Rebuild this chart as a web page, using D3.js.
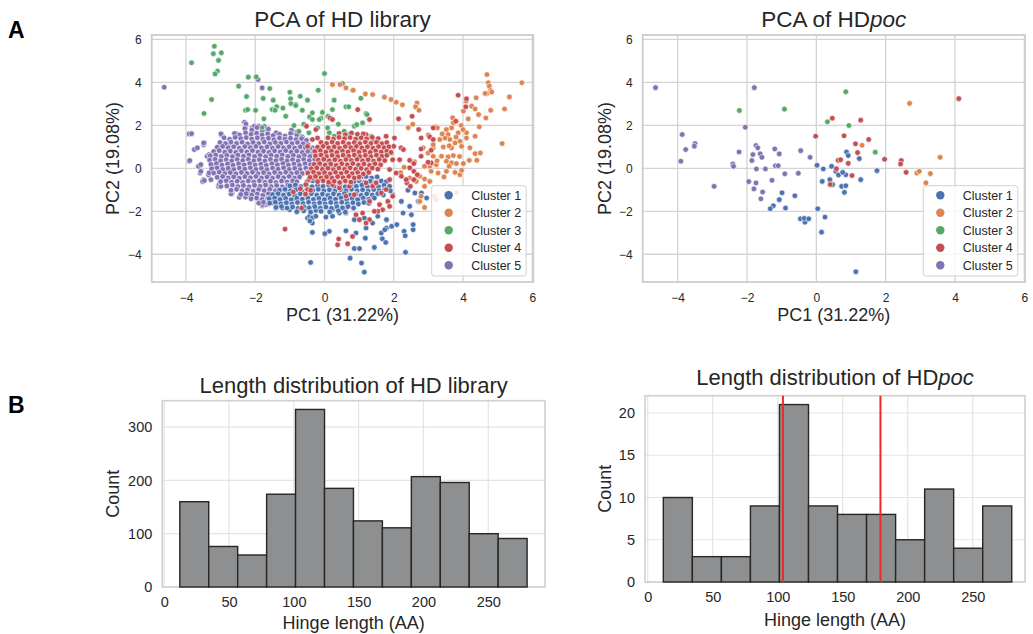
<!DOCTYPE html>
<html><head><meta charset="utf-8">
<script src="https://cdn.jsdelivr.net/npm/d3@7"></script>
<style>
body{margin:0;background:#fff}
svg{display:block}
text{font-family:"Liberation Sans",Arial,Helvetica,sans-serif;fill:#262626}
</style>
</head><body>
<svg id="c" width="1033" height="634"></svg>
<script>
// ---------------- DATA ----------------
const clusterNames = ["Cluster 1","Cluster 2","Cluster 3","Cluster 4","Cluster 5"];
const clusterColors = ["#4c72b0","#dd8452","#55a868","#c44e52","#8172b3"];
const scatterXTicks = [-4,-2,0,2,4,6];
const scatterYTicks = [-4,-2,0,2,4,6];

// HD library PCA
const libCluster1 = [
[-0.40,-4.38],[0.74,-4.18],[1.07,-4.41],[1.15,-4.83],[2.34,-3.91],[0.86,-3.73],[1.01,-3.73],[1.44,-3.68],[1.67,-3.28],[1.77,-3.45],
[1.64,-3.01],[1.79,-2.78],[1.94,-2.70],[2.09,-2.62],[2.30,-2.93],[2.33,-3.14],[2.56,-2.86],[2.56,-2.62],[2.51,-2.16],[2.46,-1.77],
[2.27,-2.08],[2.22,-1.54],[1.97,-1.23],[2.41,-1.02],[2.61,-1.15],[2.71,-1.54],[2.80,-1.15],[2.95,-1.38],[1.79,-2.39],[1.74,-2.86],
[1.54,-2.23],[1.39,-2.55],[1.20,-2.78],[1.18,-3.25],[0.91,-3.01],[0.62,-2.91],[0.14,-2.93],[0.01,-3.04],[-0.35,-2.98],[-0.49,-2.31],
[-0.43,-2.23],[-0.35,-2.31],[-0.25,-2.23],[0.04,-2.27],[0.23,-2.23],[0.43,-2.08],[0.62,-2.08],[0.86,-2.39],[1.15,-2.31],[-0.35,-2.55],
[-0.42,-2.45],[-0.93,-1.46],[-1.12,-1.61],[-1.36,-1.69],[-1.51,-1.61],[-1.41,-1.85],[-1.22,-1.85],[-1.01,-1.93],[-0.74,-1.93],[-0.54,-1.85],
[-0.25,-1.96],[0.23,-1.93],[0.62,-1.85],[0.10,0.30],[0.20,0.05],[-0.05,0.40],[0.35,0.50],[-0.06,-0.30],[0.20,-0.55],[0.43,-0.70],
[1.05,-0.42],[1.20,-0.38],[1.36,-0.45],[1.52,-0.40],
[-0.50,-0.62],[-0.34,-0.58],[0.85,-0.62],[1.00,-0.58],[1.16,-0.65],[1.32,-0.60],[1.48,-0.66],[1.64,-0.59],[1.78,-0.63],
[-1.00,-0.82],[-0.84,-0.78],[-0.68,-0.85],[-0.52,-0.80],[-0.36,-0.86],[-0.20,-0.79],[-0.04,-0.84],[0.12,-0.78],[0.28,-0.85],[0.44,-0.80],
[0.60,-0.86],[0.76,-0.79],[0.92,-0.84],[1.08,-0.78],[1.24,-0.85],[1.40,-0.80],[1.56,-0.86],[1.72,-0.79],[1.88,-0.84],
[-1.30,-1.02],[-1.14,-0.98],[-0.98,-1.05],[-0.82,-1.00],[-0.66,-1.06],[-0.50,-0.99],[-0.34,-1.04],[-0.18,-0.98],[-0.02,-1.05],[0.14,-1.00],
[0.30,-1.06],[0.46,-0.99],[0.62,-1.04],[0.78,-0.98],[0.94,-1.05],[1.10,-1.00],[1.26,-1.06],[1.42,-0.99],[1.58,-1.04],[1.74,-0.98],[1.90,-1.05],
[-1.50,-1.22],[-1.34,-1.18],[-1.18,-1.25],[-1.02,-1.20],[-0.86,-1.26],[-0.70,-1.19],[-0.54,-1.24],[-0.38,-1.18],[-0.22,-1.25],[-0.06,-1.20],
[0.10,-1.26],[0.26,-1.19],[0.42,-1.24],[0.58,-1.18],[0.74,-1.25],[0.90,-1.20],[1.06,-1.26],[1.22,-1.19],[1.38,-1.24],[1.54,-1.18],[1.70,-1.24],
[-1.60,-1.42],[-1.44,-1.38],[-1.28,-1.45],[-1.12,-1.40],[-0.96,-1.46],[-0.80,-1.39],[-0.64,-1.44],[-0.48,-1.38],[-0.32,-1.45],[-0.16,-1.40],
[0.00,-1.46],[0.16,-1.39],[0.32,-1.44],[0.48,-1.38],[0.64,-1.45],[0.80,-1.40],[0.96,-1.46],[1.12,-1.39],[1.28,-1.44],[1.44,-1.38],
[-1.58,-1.62],[-1.42,-1.58],[-1.26,-1.65],[-1.10,-1.60],[-0.94,-1.66],[-0.78,-1.59],[-0.62,-1.64],[-0.46,-1.58],[-0.30,-1.65],[-0.14,-1.60],
[0.02,-1.66],[0.18,-1.59],[0.34,-1.64],[0.50,-1.58],[0.66,-1.65],[0.82,-1.60],[0.98,-1.66],[1.14,-1.59],[1.28,-1.63],
[-1.40,-1.82],[-1.24,-1.78],[-1.08,-1.85],[-0.92,-1.80],[-0.76,-1.86],[-0.60,-1.79],[-0.44,-1.84],[-0.28,-1.78],[-0.12,-1.85],[0.04,-1.80],
[0.20,-1.86],[0.36,-1.79],[0.52,-1.84],[0.68,-1.78],[0.84,-1.85],
[-0.80,-2.02],[-0.60,-1.98],[-0.40,-2.04],[-0.10,-2.00],[0.15,-2.03],[0.40,-1.98],[0.60,-2.04]
];
const libCluster2 = [
[0.23,3.90],[0.45,3.90],[0.62,3.74],[0.83,3.63],[1.18,3.46],[1.39,3.43],[1.73,3.31],[1.92,3.20],[2.07,3.07],[2.25,2.95],
[2.67,3.04],[2.63,2.86],[2.73,2.70],[4.69,4.36],[4.73,3.98],[4.76,3.82],[4.80,3.62],[4.69,3.48],[4.83,3.55],[5.70,3.98],
[5.34,3.32],[4.38,3.28],[4.64,3.48],[4.09,3.12],[4.25,2.89],[4.35,2.76],[4.45,2.50],[4.80,2.70],[4.66,2.34],[5.20,2.76],
[4.01,2.66],[4.47,1.93],[5.13,1.15],[4.35,1.49],[4.10,1.65],[3.81,2.19],[3.72,2.11],[3.67,1.88],[3.52,1.80],[3.57,1.57],
[3.86,1.65],[3.95,1.99],[4.00,1.80],[4.10,1.41],[3.91,1.26],[3.77,1.18],[3.62,1.34],[3.48,1.41],[3.33,1.34],[3.21,1.93],
[3.26,1.88],[2.42,1.89],[3.14,0.95],[3.43,0.99],[3.67,0.95],[3.96,1.02],[3.38,0.56],[3.57,0.53],[3.72,0.59],[3.52,0.33],
[3.67,0.25],[3.81,0.22],[4.01,0.22],[4.18,0.37],[4.35,0.68],[4.50,0.71],[4.40,0.37],[3.23,0.17],[3.04,0.09],[2.89,0.09],
[3.08,-0.14],[3.28,-0.22],[3.52,-0.14],[3.77,-0.19],[3.91,-0.30],[3.96,-0.09],[2.75,-0.37],[2.89,-0.50],[3.04,-0.61],[2.65,-0.61],
[2.46,-0.45],[2.89,-0.84],[3.18,-1.30],[3.23,-1.46],[2.89,-1.82],[3.52,-1.15],[3.62,-1.15],[3.81,-1.12],[2.79,-1.30],[2.75,-1.54],
[3.14,0.56],[2.99,0.71],[3.14,1.10],[2.85,0.95],[3.60,1.05],[3.80,1.45],[3.40,1.60],[3.90,0.55],[4.20,0.95],[3.25,0.35],
[3.45,-0.40],[3.60,0.10],[2.60,0.30],[2.30,0.05],[2.20,-0.20],[3.00,1.55],[3.70,2.35],[2.55,2.05],[4.15,2.30]
];
const libCluster3 = [
[-3.18,5.68],[-3.21,5.33],[-2.98,5.37],[-3.06,5.02],[-3.84,4.91],[-3.09,4.52],[-3.16,4.39],[-3.26,3.20],[-3.48,2.55],[-2.48,3.82],
[-2.20,4.24],[-2.25,3.34],[-1.97,4.25],[-1.58,3.71],[-1.77,3.25],[-2.28,2.70],[-2.22,2.73],[-1.99,2.70],[-1.48,3.17],[-1.38,2.86],
[-1.51,2.73],[-1.43,2.70],[-1.00,3.54],[-0.98,3.23],[-0.70,3.35],[-0.49,3.17],[-0.97,3.01],[-0.83,2.92],[-0.18,3.63],[0.00,4.41],
[0.28,3.17],[0.52,3.94],[0.81,3.63],[1.05,3.26],[0.62,2.86],[0.70,2.86],[1.20,2.55],[1.23,2.50],[-0.43,2.39],[-0.35,2.27],
[-0.10,2.33],[0.10,2.42],[0.23,2.73],[-0.64,2.70],[-1.75,2.30],[-0.88,1.99],[-0.74,1.72],[-0.45,1.65],[-0.20,1.88],[0.09,1.88],
[0.14,1.65],[0.28,1.49],[0.57,1.72],[0.67,1.57],[0.86,1.96],[0.93,2.03],[1.10,2.11],[1.35,1.49],[1.39,1.26],[1.73,0.79],
[0.31,1.02],[0.91,0.95],[-0.15,2.27],[-1.12,2.42],[-0.35,2.58],[-0.06,2.60],[-1.80,1.90],[-0.60,2.05],[0.40,2.05],[-1.20,2.80]
];
const libCluster4 = [
[3.86,3.40],[4.10,3.23],[4.08,2.86],[1.30,2.27],[2.14,2.30],[2.53,2.42],[2.72,1.80],[3.14,1.88],[3.79,2.19],[2.79,1.41],
[3.04,1.46],[3.14,1.34],[2.79,0.90],[3.08,0.84],[2.79,0.56],[3.08,0.25],[2.99,0.28],[2.46,0.37],[2.58,0.22],[2.46,0.02],
[2.58,-0.14],[2.68,-0.30],[2.58,-0.53],[2.38,-0.68],[2.48,-0.84],[2.36,-0.53],[2.02,1.41],[1.78,1.49],[2.00,1.02],[2.21,0.95],
[2.28,0.87],[1.93,0.71],[2.17,0.40],[1.97,0.40],[1.88,-0.06],[2.07,-0.22],[2.22,-0.37],[1.88,-0.53],[1.97,-1.30],[1.83,-1.54],
[1.88,-1.77],[1.68,-1.93],[1.54,-2.00],[1.44,-2.00],[1.30,-2.39],[1.20,-2.55],[1.01,-2.39],[0.81,-3.17],[0.67,-3.51],[0.41,-3.29],
[0.38,-3.56],[-1.14,-2.83],[-0.66,-1.85],[-0.54,-0.76],[-0.49,-0.99],[-0.45,-0.53],[1.10,-2.08],[1.30,-1.54],[1.59,-1.69],[1.64,-1.15],
[1.78,-0.99],[0.91,-2.16],[0.86,-1.23],[0.62,-1.30],[0.72,-0.84],[0.43,-0.92],[0.23,-0.76],[0.14,-0.53],[1.39,-0.84],[1.49,-0.68],
[1.20,-0.68],[0.99,-0.45],[-0.15,-0.37],[-0.35,-0.45],[-0.52,1.96],[-0.25,1.80],[-0.20,1.41],[-0.35,1.34],[-0.49,1.02],[-0.30,0.79],
[-0.15,0.90],[0.16,2.34],[0.23,2.27],[0.96,2.73],[1.01,1.41],[1.20,1.57],[-0.90,-1.10],[-0.55,-1.20],[-0.40,-1.02],[-0.70,-0.95],
[0.42,1.62],[0.60,1.56],[0.78,1.64],[0.95,1.58],[1.12,1.60],
[0.10,1.42],[0.26,1.36],[0.42,1.44],[0.58,1.38],[0.74,1.43],[0.90,1.36],[1.06,1.42],[1.22,1.37],[1.38,1.44],[1.55,1.38],
[-0.10,1.20],[0.06,1.15],[0.22,1.22],[0.38,1.16],[0.54,1.21],[0.70,1.14],[0.86,1.20],[1.02,1.15],[1.18,1.22],[1.34,1.16],[1.50,1.21],[1.66,1.15],[1.80,1.20],
[-0.20,0.98],[-0.04,1.02],[0.12,0.95],[0.28,1.00],[0.44,0.94],[0.60,1.01],[0.76,0.96],[0.92,1.02],[1.08,0.95],[1.24,1.00],[1.40,0.94],[1.56,1.01],[1.72,0.96],[1.86,1.00],
[-0.28,0.78],[-0.12,0.82],[0.04,0.75],[0.20,0.80],[0.36,0.74],[0.52,0.81],[0.68,0.76],[0.84,0.82],[1.00,0.75],[1.16,0.80],[1.32,0.74],[1.48,0.81],[1.64,0.76],[1.80,0.80],[1.92,0.74],
[-0.26,0.58],[-0.10,0.62],[0.06,0.55],[0.22,0.60],[0.38,0.54],[0.54,0.61],[0.70,0.56],[0.86,0.62],[1.02,0.55],[1.18,0.60],[1.34,0.54],[1.50,0.61],[1.66,0.56],[1.80,0.60],
[-0.18,0.38],[-0.02,0.42],[0.14,0.35],[0.30,0.40],[0.46,0.34],[0.62,0.41],[0.78,0.36],[0.94,0.42],[1.10,0.35],[1.26,0.40],[1.42,0.34],[1.58,0.41],[1.74,0.36],
[-0.30,0.18],[-0.14,0.22],[0.02,0.15],[0.18,0.20],[0.34,0.14],[0.50,0.21],[0.66,0.16],[0.82,0.22],[0.98,0.15],[1.14,0.20],[1.30,0.14],[1.46,0.21],[1.62,0.16],
[-0.38,-0.02],[-0.22,0.02],[-0.06,-0.05],[0.10,0.00],[0.26,-0.06],[0.42,0.01],[0.58,-0.04],[0.74,0.02],[0.90,-0.05],[1.06,0.00],[1.22,-0.06],[1.38,0.01],[1.54,-0.04],
[-0.48,-0.22],[-0.32,-0.18],[-0.16,-0.25],[0.00,-0.20],[0.16,-0.26],[0.32,-0.19],[0.48,-0.24],[0.64,-0.18],[0.80,-0.25],[0.96,-0.20],[1.12,-0.26],[1.28,-0.19],
[-0.42,-0.42],[-0.26,-0.38],[-0.10,-0.45],[0.06,-0.40],[0.22,-0.46],[0.38,-0.39],[0.54,-0.44],[0.70,-0.38],[0.86,-0.45],[1.00,-0.40],
[-0.20,-0.62],[-0.04,-0.58],[0.12,-0.65],[0.28,-0.60],[0.44,-0.66],[0.60,-0.59],[0.76,-0.64]
];
const libCluster5 = [
[-4.63,3.77],[-1.92,4.13],[-1.80,3.74],[-0.83,2.97],[-3.91,1.60],[-3.76,0.87],[-3.91,0.33],[-3.64,0.09],[-3.49,1.10],[-3.47,1.18],
[-3.39,0.56],[-3.59,-0.22],[-3.49,-0.53],[-3.52,-0.61],[-3.35,-0.30],[-3.20,0.09],[-3.06,-0.84],[-2.96,1.52],[-2.91,1.02],[-2.67,-1.18],
[-2.54,1.60],[-2.28,-1.34],[-2.09,-1.30],[-1.80,-1.74],[-1.70,-1.69],[-2.31,2.14],[-2.28,1.88],[-2.09,1.88],[-1.90,1.96],[-1.66,1.80],
[-1.51,1.49],[-1.27,1.41],[-0.93,1.65],[-0.74,1.57],[-0.64,1.41],[-0.54,1.18],[-0.35,0.95],[-0.25,0.64],[-0.11,0.48],[0.04,0.40],
[-0.06,0.09],[-0.25,-0.22],[-0.74,-0.37],[-0.83,-0.84],[-1.03,-1.15],[-1.41,-1.46],[-2.82,-0.14],[-2.67,-0.37],[-3.84,1.61],[-3.49,1.18],
[-2.99,1.60],[-2.27,2.06],[-2.03,1.95],[-1.74,1.95],[-1.40,1.65],[-2.75,1.10],[-3.67,0.95],[-3.33,0.64],[-3.89,0.36],[-3.57,0.17],
[-3.57,-0.14],[-3.33,-0.21],[-3.47,-0.57],[-3.28,-0.53],[-3.04,-0.76],[-2.99,-0.84],[-2.70,-1.19],[-2.46,-1.35],[-2.17,-1.22],[-1.79,-1.69],
[-2.30,1.85],[-2.10,1.78],[-1.95,1.90],[-1.80,1.75],[-1.62,1.82],[-0.95,1.78],[-0.78,1.70],
[-2.60,1.62],[-2.45,1.55],[-2.28,1.65],[-2.12,1.58],[-1.96,1.63],[-1.80,1.55],[-1.64,1.60],[-1.48,1.52],[-1.30,1.58],[-1.14,1.50],[-0.98,1.62],[-0.80,1.55],[-0.64,1.45],
[-2.90,1.42],[-2.74,1.35],[-2.58,1.44],[-2.42,1.38],[-2.26,1.43],[-2.10,1.36],[-1.94,1.42],[-1.78,1.35],[-1.62,1.40],[-1.46,1.33],[-1.30,1.41],[-1.14,1.36],[-0.98,1.40],[-0.82,1.34],[-0.66,1.38],[-0.52,1.30],
[-3.02,1.20],[-2.86,1.15],[-2.70,1.22],[-2.54,1.16],[-2.38,1.21],[-2.22,1.14],[-2.06,1.20],[-1.90,1.15],[-1.74,1.22],[-1.58,1.14],[-1.42,1.20],[-1.26,1.16],[-1.10,1.22],[-0.94,1.15],[-0.78,1.20],[-0.62,1.14],[-0.48,1.10],
[-3.10,0.98],[-2.94,1.02],[-2.78,0.95],[-2.62,1.00],[-2.46,0.94],[-2.30,1.01],[-2.14,0.96],[-1.98,1.02],[-1.82,0.95],[-1.66,1.00],[-1.50,0.94],[-1.34,1.01],[-1.18,0.95],[-1.02,1.00],[-0.86,0.94],[-0.70,1.00],[-0.55,0.95],[-0.42,0.90],
[-3.20,0.78],[-3.04,0.82],[-2.88,0.75],[-2.72,0.80],[-2.56,0.74],[-2.40,0.81],[-2.24,0.76],[-2.08,0.82],[-1.92,0.75],[-1.76,0.80],[-1.60,0.74],[-1.44,0.81],[-1.28,0.76],[-1.12,0.82],[-0.96,0.75],[-0.80,0.80],[-0.64,0.74],[-0.48,0.79],[-0.34,0.72],
[-3.30,0.58],[-3.14,0.62],[-2.98,0.55],[-2.82,0.60],[-2.66,0.54],[-2.50,0.61],[-2.34,0.56],[-2.18,0.62],[-2.02,0.55],[-1.86,0.60],[-1.70,0.54],[-1.54,0.61],[-1.38,0.56],[-1.22,0.62],[-1.06,0.55],[-0.90,0.60],[-0.74,0.54],[-0.58,0.60],[-0.42,0.55],[-0.26,0.60],
[-3.32,0.38],[-3.16,0.42],[-3.00,0.35],[-2.84,0.40],[-2.68,0.34],[-2.52,0.41],[-2.36,0.36],[-2.20,0.42],[-2.04,0.35],[-1.88,0.40],[-1.72,0.34],[-1.56,0.41],[-1.40,0.36],[-1.24,0.42],[-1.08,0.35],[-0.92,0.40],[-0.76,0.34],[-0.60,0.41],[-0.44,0.36],[-0.28,0.42],[-0.14,0.38],
[-3.28,0.18],[-3.12,0.22],[-2.96,0.15],[-2.80,0.20],[-2.64,0.14],[-2.48,0.21],[-2.32,0.16],[-2.16,0.22],[-2.00,0.15],[-1.84,0.20],[-1.68,0.14],[-1.52,0.21],[-1.36,0.16],[-1.20,0.22],[-1.04,0.15],[-0.88,0.20],[-0.72,0.14],[-0.56,0.21],[-0.40,0.16],[-0.24,0.20],
[-3.26,-0.02],[-3.10,0.02],[-2.94,-0.05],[-2.78,0.00],[-2.62,-0.06],[-2.46,0.01],[-2.30,-0.04],[-2.14,0.02],[-1.98,-0.05],[-1.82,0.00],[-1.66,-0.06],[-1.50,0.01],[-1.34,-0.04],[-1.18,0.02],[-1.02,-0.05],[-0.86,0.00],[-0.70,-0.06],[-0.54,0.01],[-0.38,-0.03],
[-3.20,-0.22],[-3.04,-0.18],[-2.88,-0.25],[-2.72,-0.20],[-2.56,-0.26],[-2.40,-0.19],[-2.24,-0.24],[-2.08,-0.18],[-1.92,-0.25],[-1.76,-0.20],[-1.60,-0.26],[-1.44,-0.19],[-1.28,-0.24],[-1.12,-0.18],[-0.96,-0.25],[-0.80,-0.20],[-0.64,-0.24],[-0.50,-0.18],
[-3.10,-0.42],[-2.94,-0.38],[-2.78,-0.45],[-2.62,-0.40],[-2.46,-0.46],[-2.30,-0.39],[-2.14,-0.44],[-1.98,-0.38],[-1.82,-0.45],[-1.66,-0.40],[-1.50,-0.46],[-1.34,-0.39],[-1.18,-0.44],[-1.02,-0.38],[-0.86,-0.45],[-0.72,-0.40],
[-3.00,-0.62],[-2.84,-0.58],[-2.68,-0.65],[-2.52,-0.60],[-2.36,-0.66],[-2.20,-0.59],[-2.04,-0.64],[-1.88,-0.58],[-1.72,-0.65],[-1.56,-0.60],[-1.40,-0.66],[-1.24,-0.59],[-1.08,-0.64],[-0.92,-0.58],[-0.80,-0.63],
[-2.82,-0.82],[-2.66,-0.78],[-2.50,-0.85],[-2.34,-0.80],[-2.18,-0.86],[-2.02,-0.79],[-1.86,-0.84],[-1.70,-0.78],[-1.54,-0.85],[-1.38,-0.80],[-1.22,-0.86],[-1.06,-0.79],[-0.92,-0.84],
[-2.70,-1.02],[-2.54,-0.98],[-2.38,-1.05],[-2.22,-1.00],[-2.06,-1.06],[-1.90,-0.99],[-1.74,-1.04],[-1.58,-0.98],[-1.42,-1.05],[-1.26,-1.00],[-1.10,-1.04],
[-2.42,-1.22],[-2.26,-1.18],[-2.10,-1.25],[-1.94,-1.20],[-1.78,-1.26],[-1.62,-1.19],[-1.46,-1.24],[-1.30,-1.18],[-1.18,-1.24],
[-2.12,-1.42],[-1.96,-1.38],[-1.80,-1.45],[-1.64,-1.40],[-1.48,-1.44],[-1.36,-1.38],
[-1.90,-1.62],[-1.76,-1.58],[-1.62,-1.66]
];

// HDpoc PCA
const pocCluster1 = [
[0.02,0.14],[0.20,-0.03],[0.44,0.09],[0.56,-0.14],[0.64,-0.31],[0.85,-0.30],[0.87,0.76],[0.92,0.59],[1.24,0.45],[1.28,-0.53],
[1.75,-0.11],[0.17,-0.61],[0.39,-0.53],[0.47,-0.76],[0.73,-0.84],[0.85,-0.81],[0.81,-1.12],[-0.99,-1.14],[-1.07,-1.46],[-0.62,-1.28],
[-1.24,-1.74],[-1.33,-1.88],[-0.89,-1.85],[0.04,-1.88],[-0.46,-2.35],[-0.33,-2.51],[-0.35,-2.33],[-0.22,-2.35],[0.25,-2.27],[0.15,-2.97],
[1.14,-4.81],[0.76,-0.19]
];
const pocCluster2 = [[2.69,3.02],[1.32,1.07],[3.57,0.51],[2.90,-0.22],[2.97,-0.14],[3.29,-0.25],[3.16,-0.68]];
const pocCluster3 = [[-2.22,2.69],[-0.92,2.75],[0.85,3.56],[0.32,2.16],[0.94,1.99],[1.70,0.75]];
const pocCluster4 = [
[-0.02,1.49],[0.46,2.33],[1.28,2.24],[4.11,3.24],[0.80,1.51],[1.13,1.14],[1.19,0.73],[1.51,1.34],[1.97,0.42],[2.45,0.36],
[2.43,0.20],[2.59,-0.19],[0.63,0.37],[0.70,0.40],[0.92,0.23],[0.58,-0.02],[1.03,-0.34],[0.40,-0.75]
];
const pocCluster5 = [
[-4.64,3.75],[-1.79,3.75],[-2.05,1.91],[-3.87,1.57],[-3.77,0.87],[-3.50,1.15],[-3.52,1.03],[-3.91,0.33],[-2.23,0.76],[-2.41,0.20],
[-2.39,0.09],[-2.95,-0.84],[-1.74,1.06],[-1.69,0.95],[-1.83,0.64],[-1.62,0.67],[-1.57,0.51],[-1.86,0.36],[-1.73,-0.03],[-1.47,-0.03],
[-1.20,0.90],[-1.07,0.67],[-1.18,0.12],[-1.10,0.12],[-0.91,-0.26],[-0.45,0.82],[-0.18,0.51],[-0.52,-0.23],[-1.95,-0.62],[-1.74,-0.68],
[-1.28,-0.56],[-1.80,-0.96],[-1.55,-1.10],[-1.60,-1.42]
];

// Histograms
const binEdges = [12, 34.33, 56.67, 79, 101.33, 123.67, 146, 168.33, 190.67, 213, 235.33, 257.67, 280];
const libCounts = [160, 76, 60, 174, 333, 185, 124, 111, 207, 196, 100, 91];
const pocCounts = [10, 3, 3, 9, 21, 9, 8, 8, 5, 11, 4, 9];
const histXTicks = [0, 50, 100, 150, 200, 250];
const libYTicks = [0, 100, 200, 300];
const pocYTicks = [0, 5, 10, 15, 20];
const pocMarkers = [104, 179];

// ---------------- DRAW ----------------
const svg = d3.select("#c");
const FONT = '"Liberation Sans",Arial,Helvetica,sans-serif';

function scatterPanel(L, groups, titleParts, xDom, yDom) {
  const g = svg.append("g");
  const x = d3.scaleLinear().domain(xDom).range([L.x0, L.x1]);
  const y = d3.scaleLinear().domain(yDom).range([L.y1, L.y0]);
  g.append("g").selectAll("line").data(scatterXTicks).join("line")
    .attr("x1", d => x(d)).attr("x2", d => x(d)).attr("y1", L.y0).attr("y2", L.y1)
    .attr("stroke", "#d4d4d4").attr("stroke-width", 1.3);
  g.append("g").selectAll("line").data(scatterYTicks).join("line")
    .attr("y1", d => y(d)).attr("y2", d => y(d)).attr("x1", L.x0).attr("x2", L.x1)
    .attr("stroke", "#d4d4d4").attr("stroke-width", 1.3);
  g.append("rect").attr("x", L.x0).attr("y", L.y0).attr("width", L.x1 - L.x0).attr("height", L.y1 - L.y0)
    .attr("fill", "none").attr("stroke", "#cccccc").attr("stroke-width", 1.8);
  const ax = g.append("g").attr("transform", `translate(0,${L.y1})`)
    .call(d3.axisBottom(x).tickValues(scatterXTicks).tickSize(0).tickPadding(11));
  const ay = g.append("g").attr("transform", `translate(${L.x0},0)`)
    .call(d3.axisLeft(y).tickValues(scatterYTicks).tickSize(0).tickPadding(10));
  [ax, ay].forEach(a => { a.select(".domain").remove(); a.selectAll("text").style("font-size", "12px").style("font-family", FONT).style("fill", "#262626"); });
  const order = [4, 2, 0, 1, 3];
  order.forEach(ci => {
    g.append("g").selectAll("circle").data(groups[ci]).join("circle")
      .attr("cx", d => x(d[0])).attr("cy", d => y(d[1])).attr("r", 2.8)
      .attr("fill", clusterColors[ci]).attr("stroke", "#fff").attr("stroke-width", 0.6);
  });
  const lx = L.legX, ly = 185.7;
  const lg = g.append("g");
  lg.append("rect").attr("x", lx).attr("y", ly).attr("width", 94.5).attr("height", 90.3).attr("rx", 2.5)
    .attr("fill", "#fff").attr("fill-opacity", 0.82).attr("stroke", "#d2d2d2").attr("stroke-width", 1);
  clusterNames.forEach((n, i) => {
    const cy = ly + 9.5 + i * 17.5;
    lg.append("circle").attr("cx", lx + 17).attr("cy", cy).attr("r", 4.2).attr("fill", clusterColors[i]);
    lg.append("text").attr("x", lx + 39.5).attr("y", cy).attr("dy", "0.35em").style("font-size", "12.5px").text(n);
  });
  const t = g.append("text").attr("x", (L.x0 + L.x1) / 2).attr("y", 27).attr("text-anchor", "middle").style("font-size", "22.5px");
  t.append("tspan").text(titleParts[0]);
  if (titleParts[1]) t.append("tspan").style("font-style", "italic").text(titleParts[1]);
  g.append("text").attr("x", (L.x0 + L.x1) / 2).attr("y", 321).attr("text-anchor", "middle").style("font-size", "18px").text("PC1 (31.22%)");
  g.append("text").attr("transform", `translate(${L.ylabX},${(L.y0 + L.y1) / 2}) rotate(-90)`)
    .attr("text-anchor", "middle").attr("dy", "0.35em").style("font-size", "18px").text("PC2 (19.08%)");
}

function histPanel(L, counts, yTicks, xDom, yDom, titleParts, markers) {
  const g = svg.append("g");
  const x = d3.scaleLinear().domain(xDom).range([L.x0, L.x1]);
  const y = d3.scaleLinear().domain(yDom).range([L.y1, L.y0]);
  g.append("g").selectAll("line").data(histXTicks).join("line")
    .attr("x1", d => x(d)).attr("x2", d => x(d)).attr("y1", L.y0).attr("y2", L.y1)
    .attr("stroke", "#e4e4e4").attr("stroke-width", 1.2);
  g.append("g").selectAll("line").data(yTicks).join("line")
    .attr("y1", d => y(d)).attr("y2", d => y(d)).attr("x1", L.x0).attr("x2", L.x1)
    .attr("stroke", "#e4e4e4").attr("stroke-width", 1.2);
  g.append("rect").attr("x", L.x0).attr("y", L.y0).attr("width", L.x1 - L.x0).attr("height", L.y1 - L.y0)
    .attr("fill", "none").attr("stroke", "#d0d0d0").attr("stroke-width", 1.6);
  const bins = counts.map((c, i) => ({ x0: binEdges[i], x1: binEdges[i + 1], c }));
  g.append("g").selectAll("rect").data(bins).join("rect")
    .attr("x", d => x(d.x0)).attr("width", d => x(d.x1) - x(d.x0))
    .attr("y", d => y(d.c)).attr("height", d => y(0) - y(d.c))
    .attr("fill", "#8d8f91").attr("stroke", "#262626").attr("stroke-width", 1.4);
  if (markers) {
    g.append("g").selectAll("line").data(markers).join("line")
      .attr("x1", d => x(d)).attr("x2", d => x(d)).attr("y1", L.y0).attr("y2", L.y1)
      .attr("stroke", "#ee2a24").attr("stroke-width", 2);
  }
  const ax = g.append("g").attr("transform", `translate(0,${L.y1})`)
    .call(d3.axisBottom(x).tickValues(histXTicks).tickSize(0).tickPadding(10));
  const ay = g.append("g").attr("transform", `translate(${L.x0},0)`)
    .call(d3.axisLeft(y).tickValues(yTicks).tickSize(0).tickPadding(10));
  [ax, ay].forEach(a => { a.select(".domain").remove(); a.selectAll("text").style("font-size", "14.5px").style("font-family", FONT).style("fill", "#262626"); });
  const t = g.append("text").attr("x", (L.x0 + L.x1) / 2).attr("y", L.titleY).attr("text-anchor", "middle").style("font-size", "22px");
  t.append("tspan").text(titleParts[0]);
  if (titleParts[1]) t.append("tspan").style("font-style", "italic").text(titleParts[1]);
  g.append("text").attr("x", (L.x0 + L.x1) / 2).attr("y", L.xlabY).attr("text-anchor", "middle").style("font-size", "18px").text("Hinge length (AA)");
  g.append("text").attr("transform", `translate(${L.ylabX},${(L.y0 + L.y1) / 2}) rotate(-90)`)
    .attr("text-anchor", "middle").attr("dy", "0.35em").style("font-size", "18px").text("Count");
}

scatterPanel({x0:151.7, x1:533.3, y0:35, y1:282, legX:431.7, ylabX:113},
  [libCluster1, libCluster2, libCluster3, libCluster4, libCluster5], ["PCA of HD library"], [-4.99, 6.03], [-5.29, 6.2]);
scatterPanel({x0:642.7, x1:1025, y0:35, y1:282, legX:923.3, ylabX:605},
  [pocCluster1, pocCluster2, pocCluster3, pocCluster4, pocCluster5], ["PCA of HD", "poc"], [-5.01, 6.02], [-5.29, 6.2]);

histPanel({x0:162.3, x1:545, y0:400.7, y1:587, titleY:393, xlabY:628.5, ylabX:113},
  libCounts, libYTicks, [-1.5, 293.8], [0, 349.4], ["Length distribution of HD library"]);
histPanel({x0:645, x1:1025, y0:395.7, y1:582, titleY:385, xlabY:626, ylabX:605},
  pocCounts, pocYTicks, [-2.1, 290.2], [0, 22.05], ["Length distribution of HD", "poc"], pocMarkers);

svg.append("text").attr("x", 8).attr("y", 38).style("font-size", "23px").style("font-weight", "bold").style("fill", "#000").text("A");
svg.append("text").attr("x", 8).attr("y", 413).style("font-size", "23px").style("font-weight", "bold").style("fill", "#000").text("B");
</script>
</body></html>
